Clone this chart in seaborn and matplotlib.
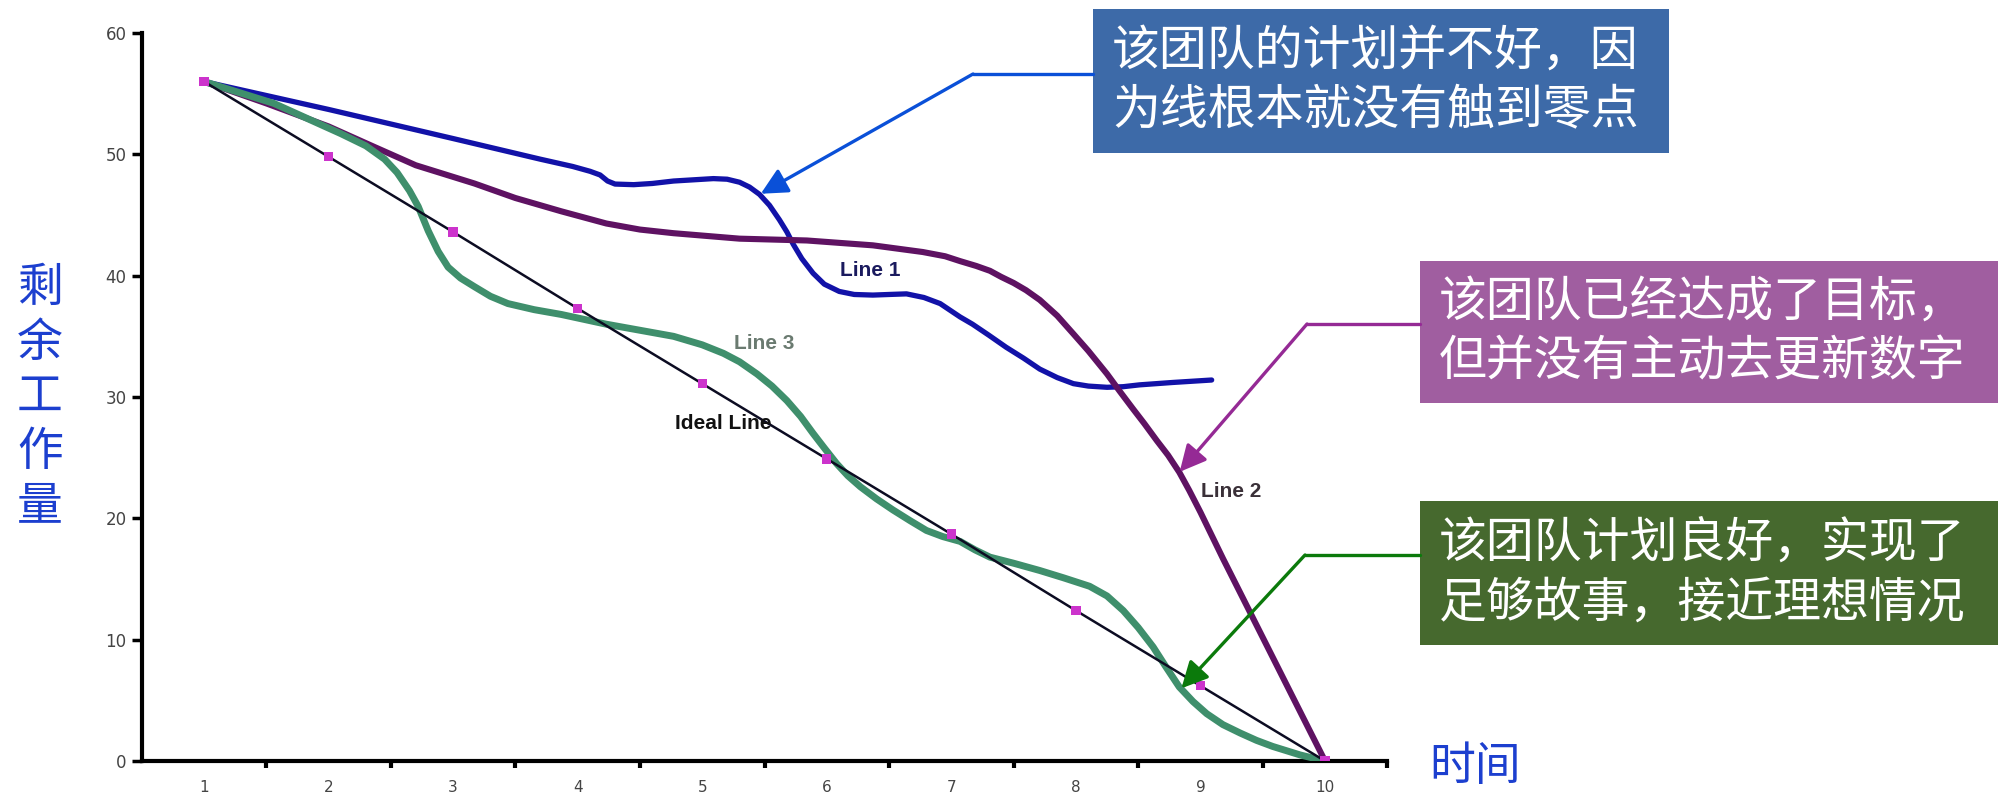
import matplotlib
matplotlib.use("Agg")
import numpy as np
import pandas as pd
import seaborn as sns
import matplotlib.pyplot as plt
from matplotlib.patches import Rectangle
from matplotlib.lines import Line2D

# ---------------- data ----------------
days = [1, 2, 3, 4, 5, 6, 7, 8, 9, 10]
day_labels = ["1", "2", "3", "4", "5", "6", "7", "8", "9", "10"]
y_ticks = [0, 10, 20, 30, 40, 50, 60]

ideal_y = [56, 49.8, 43.6, 37.3, 31.1, 24.9, 18.7, 12.4, 6.2, 0]

line1_x = [1, 2, 3, 3.7, 3.96, 4.1, 4.18, 4.24, 4.3, 4.45, 4.6, 4.77, 5.09,
           5.2, 5.3, 5.38, 5.46, 5.54, 5.62, 5.68, 5.73, 5.8, 5.89, 5.98, 6.1,
           6.22, 6.37, 6.5, 6.64, 6.78, 6.91, 7.07, 7.17, 7.3, 7.44, 7.58,
           7.71, 7.85, 7.98, 8.1, 8.25, 8.38, 8.51, 8.78, 9.09]
line1_y = [56, 53.7, 51.3, 49.6, 49.0, 48.6, 48.3, 47.8, 47.55, 47.5, 47.6,
           47.8, 48.0, 47.95, 47.7, 47.3, 46.7, 45.8, 44.6, 43.6, 42.6, 41.4,
           40.2, 39.3, 38.7, 38.45, 38.4, 38.45, 38.5, 38.2, 37.7, 36.6, 36.0,
           35.1, 34.1, 33.2, 32.3, 31.6, 31.1, 30.9, 30.8, 30.85, 31.0, 31.2,
           31.4]

line2_x = [1, 1.5, 2, 2.37, 2.7, 3.17, 3.5, 3.87, 4.23, 4.5, 4.77, 5.3, 5.84,
           6.37, 6.77, 6.95, 7.07, 7.2, 7.31, 7.4, 7.5, 7.6, 7.71, 7.85, 7.98,
           8.1, 8.25, 8.35, 8.46, 8.55, 8.65, 8.74, 8.83, 8.91, 9.0, 9.18,
           9.45, 9.72, 10]
line2_y = [56, 54.2, 52.3, 50.6, 49.1, 47.6, 46.4, 45.3, 44.3, 43.8, 43.5,
           43.05, 42.9, 42.5, 41.95, 41.6, 41.2, 40.8, 40.4, 39.9, 39.4, 38.8,
           38.0, 36.7, 35.2, 33.8, 31.9, 30.5, 29.0, 27.8, 26.4, 25.2, 23.8,
           22.3, 20.5, 16.7, 11.2, 5.7, 0]

line3_x = [1, 1.56, 2.1, 2.3, 2.45, 2.55, 2.65, 2.72, 2.8, 2.88, 2.96, 3.06,
           3.17, 3.3, 3.44, 3.65, 3.87, 4.23, 4.77, 5.0, 5.17, 5.3, 5.44,
           5.56, 5.68, 5.79, 5.89, 5.98, 6.08, 6.17, 6.27, 6.4, 6.53, 6.67,
           6.8, 6.93, 7.07, 7.19, 7.31, 7.5, 7.71, 7.9, 8.11, 8.25, 8.38, 8.5,
           8.62, 8.72, 8.83, 8.94, 9.05, 9.18, 9.32, 9.45, 9.58, 9.8, 10]
line3_y = [56, 54.2, 51.7, 50.7, 49.6, 48.5, 47.0, 45.7, 43.7, 42.0, 40.7,
           39.8, 39.1, 38.3, 37.7, 37.2, 36.8, 36.0, 35.0, 34.3, 33.6, 32.9,
           31.9, 30.9, 29.7, 28.4, 27.0, 25.8, 24.5, 23.5, 22.6, 21.6, 20.7,
           19.8, 19.0, 18.5, 18.1, 17.4, 16.8, 16.3, 15.7, 15.1, 14.4, 13.6,
           12.4, 11.0, 9.4, 7.8, 6.1, 4.9, 3.9, 3.0, 2.3, 1.7, 1.2, 0.5, 0]

series_labels = ["Line 1", "Line 2", "Line 3", "Ideal Line"]
y_label_chars = ["剩", "余", "工", "作", "量"]
x_label = "时间"
notes = [
    ["该团队的计划并不好，因", "为线根本就没有触到零点"],
    ["该团队已经达成了目标，", "但并没有主动去更新数字"],
    ["该团队计划良好，实现了", "足够故事，接近理想情况"],
]

# ---------------- style ----------------
sns.set_theme(style="white")
plt.rcParams['font.family'] = ['Noto Sans CJK SC', 'DejaVu Sans']

W, H = 1998, 795
fig = plt.figure(figsize=(W / 100, H / 100), dpi=100)
fig.patch.set_facecolor("white")


def fx(px):
    return px / W


def fy(py):
    return 1 - py / H


ax = fig.add_axes([fx(141.7), fy(761), 1245.6 / W, 728 / H])
ax.set_facecolor("white")

C_BLUE = "#1212a8"
C_PURPLE = "#5e1262"
C_GREEN = "#3f8f6c"
C_IDEAL = "#0c0c22"

df1 = pd.DataFrame({"x": line1_x, "y": line1_y})
df2 = pd.DataFrame({"x": line2_x, "y": line2_y})
df3 = pd.DataFrame({"x": line3_x, "y": line3_y})
dfi = pd.DataFrame({"x": days, "y": ideal_y})

kw = dict(sort=False, estimator=None, legend=False)
sns.lineplot(data=df1, x="x", y="y", ax=ax, color=C_BLUE, linewidth=3.8,
             solid_joinstyle="round", solid_capstyle="round", zorder=2, **kw)
sns.lineplot(data=df2, x="x", y="y", ax=ax, color=C_PURPLE, linewidth=4.4,
             solid_joinstyle="round", solid_capstyle="round", zorder=3, **kw)
sns.lineplot(data=df3, x="x", y="y", ax=ax, color=C_GREEN, linewidth=5.0,
             solid_joinstyle="round", solid_capstyle="round", zorder=4, **kw)
sns.lineplot(data=dfi, x="x", y="y", ax=ax, color=C_IDEAL, linewidth=1.8,
             zorder=5, **kw)
sns.scatterplot(data=dfi, x="x", y="y", ax=ax, marker="s", s=45,
                color="#cc33cc", edgecolor="none", zorder=6, legend=False)

ax.set_xlim(0.5, 10.5)
ax.set_ylim(0, 60)
ax.set_xlabel("")
ax.set_ylabel("")
ax.set_xticks(days)
ax.set_xticklabels(day_labels)
ax.set_xticks([d + 0.5 for d in days], minor=True)
ax.set_yticks(y_ticks)
ax.set_yticklabels([str(v) for v in y_ticks])
ax.tick_params(axis="x", which="major", length=0, pad=13.5, labelsize=11,
               labelcolor="#444444")
ax.tick_params(axis="x", which="minor", length=5, width=3, direction="out",
               color="black", bottom=True)
ax.tick_params(axis="y", which="major", length=7, width=2.5, pad=4,
               labelsize=12, labelcolor="#444444", color="black", left=True)
for lbl in ax.get_xticklabels() + ax.get_yticklabels():
    lbl.set_family("DejaVu Sans")
for s in ["top", "right"]:
    ax.spines[s].set_visible(False)
for s in ["left", "bottom"]:
    ax.spines[s].set_linewidth(3)
    ax.spines[s].set_color("black")
ax.grid(False)

# series labels
lab_font = ["Liberation Sans", "DejaVu Sans"]
ax.text(6.35, 40.4, series_labels[0], ha="center", va="center", fontsize=15,
        fontweight="bold", family=lab_font, color="#1a1a5e", zorder=7)
ax.text(9.25, 22.2, series_labels[1], ha="center", va="center", fontsize=15,
        fontweight="bold", family=lab_font, color="#3a3038", zorder=7)
ax.text(5.5, 34.4, series_labels[2], ha="center", va="center", fontsize=15,
        fontweight="bold", family=lab_font, color="#6a7a70", zorder=7)
ax.text(5.17, 27.8, series_labels[3], ha="center", va="center", fontsize=15,
        fontweight="bold", family=lab_font, color="#111111", zorder=7)

# y label (stacked) and x label
for i, ch in enumerate(y_label_chars):
    fig.text(fx(40), fy(288 + i * 54.5), ch, ha="center", va="center",
             fontsize=33, color="#1c3fcf")
fig.text(fx(1475), fy(767), x_label, ha="center", va="center", fontsize=33,
         color="#1c3fcf")

# annotation boxes
boxes = [
    dict(l=1093, t=9, r=1669, b=153, fc="#3d6aa8"),
    dict(l=1420, t=261, r=1998, b=403, fc="#a05ea0"),
    dict(l=1420, t=501, r=1998, b=645, fc="#46692e"),
]
for bx, lines in zip(boxes, notes):
    fig.patches.append(Rectangle((fx(bx["l"]), fy(bx["b"])),
                                 (bx["r"] - bx["l"]) / W,
                                 (bx["b"] - bx["t"]) / H,
                                 transform=fig.transFigure,
                                 facecolor=bx["fc"], edgecolor="none",
                                 zorder=1))
    cy = (bx["t"] + bx["b"]) / 2
    for j, ln in enumerate(lines):
        fig.text(fx(bx["l"] + 19), fy(cy - 30 + 60 * j), ln, ha="left",
                 va="center", fontsize=34.5, color="white", zorder=3)

# connectors: (box-side y, elbow x, arrow tip in data coords, colour)
connectors = [
    (74, 973, (5.47, 46.75), "#0a50d8", 1093),
    (324, 1307, (8.833, 23.83), "#952a95", 1420),
    (555, 1305, (8.847, 5.99), "#0b7a0b", 1420),
]
for yy, ex, tip, col, bl in connectors:
    fig.add_artist(Line2D([fx(ex), fx(bl)], [fy(yy), fy(yy)], color=col,
                          linewidth=2.4, transform=fig.transFigure))
    ax.annotate("", xy=tip, xycoords="data",
                xytext=(fx(ex), fy(yy)), textcoords="figure fraction",
                arrowprops=dict(arrowstyle="-|>,head_length=0.8,head_width=0.4",
                                color=col, linewidth=2.4, mutation_scale=20,
                                shrinkA=0, shrinkB=0),
                annotation_clip=False, zorder=8)

fig.savefig("out.png", dpi=100, facecolor="white")
